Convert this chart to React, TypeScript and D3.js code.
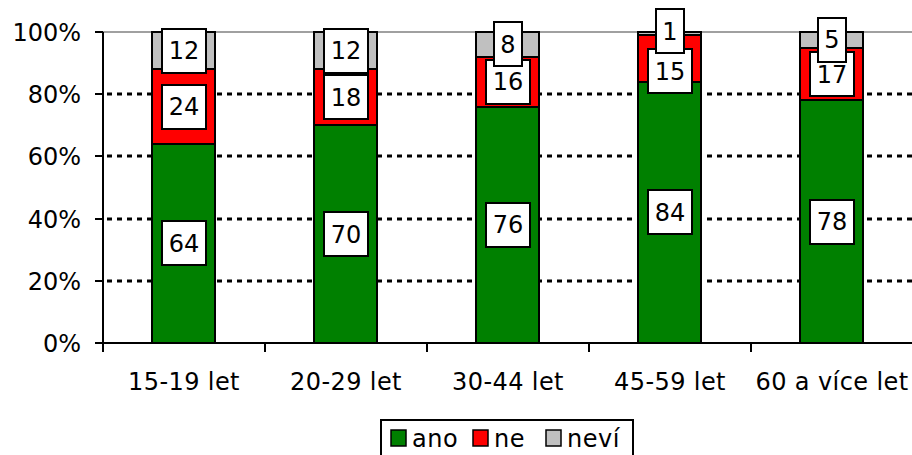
import React from "react";
import * as d3 from "d3";

// kategorie a hodnoty (%)
const categories = ["15-19 let", "20-29 let", "30-44 let", "45-59 let", "60 a více let"];
const ano = [64, 70, 76, 84, 78];
const ne = [24, 18, 16, 15, 17];
const nevi = [12, 12, 8, 1, 5];
const seriesNames = ["ano", "ne", "neví"];
const seriesColors = ["#008000", "#ff0000", "#c0c0c0"];
const yTicks = [0, 20, 40, 60, 80, 100];

const W = 912, H = 455;
const FONT = "Verdana, DejaVu Sans, sans-serif";

export default function App() {
  const left = 103, right = 913, top = 32, bottom = 343;
  const x = d3.scaleBand<string>().domain(categories).range([left, right]).paddingInner(0.61).paddingOuter(0.305);
  const y = d3.scaleLinear().domain([0, 100]).range([bottom, top]);
  const ry = (v: number) => Math.round(y(v));
  const step = x.step();

  const rows = categories.map((c, i) => ({ cat: c, ano: ano[i], ne: ne[i], nevi: nevi[i] }));
  const stack = d3.stack<any>().keys(["ano", "ne", "nevi"])(rows);

  // popisky – středy segmentů, jednoduché odsunutí při kolizi
  const labelH = 44;
  const labels: { x: number; y: number; v: number }[] = [];
  categories.forEach((c, i) => {
    const cx = x(c)! + x.bandwidth() / 2;
    const ys = stack.map((s) => y((s[i][0] + s[i][1]) / 2));
    const vals = stack.map((s) => s[i][1] - s[i][0]);
    for (let k = ys.length - 2; k >= 0; k--) {
      if (ys[k] - ys[k + 1] < 30) {
        ys[k + 1] -= 2.5;
        ys[k] = ys[k + 1] + 40;
      }
    }
    ys.forEach((yy, k) => labels.push({ x: cx, y: yy, v: vals[k] }));
  });

  return (
    <svg width={W} height={H} style={{ position: "absolute", left: 0, top: 0 }} fontFamily={FONT}>
      <rect width={W} height={H} fill="#fff" />
      {/* mřížka */}
      {yTicks.filter((t) => t > 0 && t < 100).map((t) => (
        <line key={t} x1={left + 4} x2={right} y1={ry(t)} y2={ry(t)} stroke="#000" strokeWidth={3} strokeDasharray="5,5" />
      ))}
      <line x1={left} x2={right} y1={ry(100)} y2={ry(100)} stroke="#808080" strokeWidth={1.5} />
      {/* osy */}
      <line x1={left} x2={left} y1={ry(0)} y2={ry(100)} stroke="#000" strokeWidth={2} />
      <line x1={left} x2={right} y1={ry(0)} y2={ry(0)} stroke="#000" strokeWidth={2} />
      {yTicks.map((t) => (
        <g key={t}>
          <line x1={left - 8} x2={left} y1={ry(t)} y2={ry(t)} stroke="#000" strokeWidth={2} />
          <text x={left - 22} y={ry(t)} dy="0.36em" textAnchor="end" fontSize={24} fill="#000">{t}%</text>
        </g>
      ))}
      {categories.map((c, i) => (
        <line key={c} x1={left + i * step} x2={left + i * step} y1={ry(0)} y2={ry(0) + 9} stroke="#000" strokeWidth={2} />
      ))}
      {categories.map((c) => (
        <text key={c} x={x(c)! + x.bandwidth() / 2} y={381} dy="0.36em" textAnchor="middle" fontSize={24} fill="#000" letterSpacing={0.4}>{c}</text>
      ))}
      {/* sloupce */}
      {stack.map((s, k) => s.map((d, i) => (
        <rect key={k + "-" + i} x={Math.round(x(categories[i])!)} width={Math.round(x.bandwidth())} y={ry(d[1])} height={ry(d[0]) - ry(d[1])}
          fill={seriesColors[k]} stroke="#000" strokeWidth={2} />
      )))}
      {/* popisky */}
      {labels.map((l, j) => {
        const w = String(l.v).length === 1 ? 28 : 44;
        return (
          <g key={j}>
            <rect x={Math.round(l.x - w / 2)} y={Math.round(l.y - labelH / 2)} width={w} height={labelH} fill="#fff" stroke="#000" strokeWidth={2} />
            <text x={l.x} y={l.y} dy="0.36em" textAnchor="middle" fontSize={24} fill="#000">{l.v}</text>
          </g>
        );
      })}
      {/* legenda */}
      <rect x={381} y={420} width={252} height={40} fill="#fff" stroke="#000" strokeWidth={2} />
      {seriesNames.map((n, k) => {
        const lx = [391, 473, 546][k];
        return (
          <g key={n}>
            <rect x={lx} y={430} width={15} height={16} fill={seriesColors[k]} stroke="#000" strokeWidth={1.5} />
            <text x={lx + 21} y={438} dy="0.36em" fontSize={24} fill="#000" letterSpacing={0.5}>{n}</text>
          </g>
        );
      })}
    </svg>
  );
}
